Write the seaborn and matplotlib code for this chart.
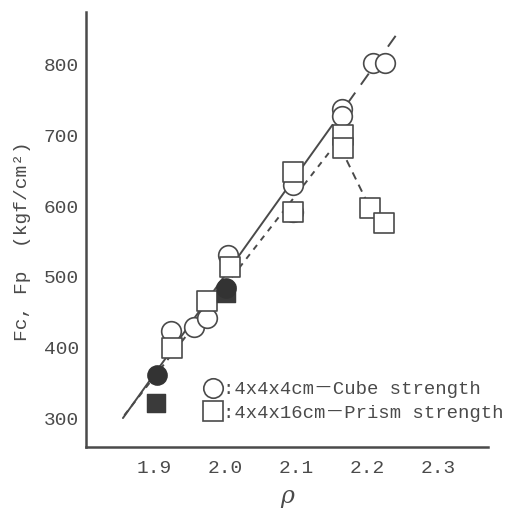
import matplotlib
matplotlib.use("Agg")
import matplotlib.pyplot as plt
import seaborn as sns
from matplotlib.lines import Line2D

# open cube strength points
cube_rho = [1.924, 1.956, 1.975, 2.004, 2.096, 2.096, 2.165, 2.165, 2.208, 2.225]
cube_F = [423, 429, 441, 531, 630, 592, 738, 728, 803, 803]
# open prism strength points
prism_rho = [1.925, 1.975, 2.007, 2.096, 2.096, 2.166, 2.166, 2.204, 2.224]
prism_F = [399, 466, 514, 648, 592, 701, 682, 597, 576]
# filled points
fcube_rho = [1.904, 2.001]
fcube_F = [361, 484]
fprism_rho = [1.903, 2.001]
fprism_F = [321, 477]
# fitted lines
cube_line_rho = [1.856, 2.151]
cube_line_F = [300, 715]
cube_ext_rho = [2.172, 2.240]
cube_ext_F = [745, 841]
prism_line_rho = [1.858, 2.148]
prism_line_F = [304, 678]
prism_drop_rho = [2.171, 2.206]
prism_drop_F = [665, 593]

xticks = [1.9, 2.0, 2.1, 2.2, 2.3]
yticks = [300, 400, 500, 600, 700, 800]
legend_labels = [":4x4x4cm－Cube strength", ":4x4x16cm－Prism strength"]

sns.set_style("white")
plt.rcParams['font.family'] = ['Liberation Mono', 'Noto Sans CJK JP', 'DejaVu Sans']
ink = "#4a4a4a"

fig = plt.figure(figsize=(5.12, 5.15), dpi=100)
ax = fig.add_axes([0.168, 0.132, 0.785, 0.845])

sns.lineplot(x=cube_line_rho, y=cube_line_F, ax=ax, color=ink, lw=1.4, linestyle="-")
sns.lineplot(x=cube_ext_rho, y=cube_ext_F, ax=ax, color=ink, lw=1.4, linestyle=(0, (7, 5)))
sns.lineplot(x=prism_line_rho, y=prism_line_F, ax=ax, color=ink, lw=1.4, linestyle=(0, (3, 3)))
sns.lineplot(x=prism_drop_rho, y=prism_drop_F, ax=ax, color=ink, lw=1.4, linestyle=(0, (4, 3)))

sns.scatterplot(x=cube_rho, y=cube_F, ax=ax, marker="o", s=200, facecolors="white",
                edgecolor=ink, linewidth=1.2, zorder=3)
sns.scatterplot(x=prism_rho, y=prism_F, ax=ax, marker="s", s=210, facecolors="white",
                edgecolor=ink, linewidth=1.2, zorder=3)
sns.scatterplot(x=fprism_rho, y=fprism_F, ax=ax, marker="s", s=170, color="#3a3a3a",
                edgecolor="#3a3a3a", zorder=4)
sns.scatterplot(x=fcube_rho, y=fcube_F, ax=ax, marker="o", s=190, color="#333333",
                edgecolor="#333333", zorder=5)

ax.set_xlim(1.804, 2.37)
ax.set_ylim(259, 875)
ax.set_xticks(xticks)
ax.set_xticklabels([f"{v:.1f}" for v in xticks])
ax.set_yticks(yticks)
ax.set_yticklabels([str(v) for v in yticks])
ax.tick_params(direction="in", length=9, width=1.2, colors=ink, labelsize=14)
ax.tick_params(axis="y", pad=5)
ax.tick_params(axis="x", pad=9)
for s in ["top", "right"]:
    ax.spines[s].set_visible(False)
for s in ["left", "bottom"]:
    ax.spines[s].set_color(ink)
    ax.spines[s].set_linewidth(1.8)

ax.set_xlabel("ρ", fontsize=17, color=ink, family=["DejaVu Serif"], style="italic", labelpad=6)
ax.set_ylabel("Fc, Fp  (kgf/cm²)", fontsize=14, color=ink)
ax.yaxis.set_label_coords(-0.137, 0.474)

h1 = Line2D([], [], marker="o", ls="", markersize=14, mfc="white", mec=ink, mew=1.2)
h2 = Line2D([], [], marker="s", ls="", markersize=14, mfc="white", mec=ink, mew=1.2)
leg = ax.legend([h1, h2], legend_labels,
                loc="lower left", bbox_to_anchor=(0.275, 0.04), frameon=False,
                handlelength=0.9, handletextpad=0.1, labelspacing=0.35, fontsize=13.6,
                borderaxespad=0)
for t in leg.get_texts():
    t.set_color(ink)

fig.savefig("out.png", dpi=100)
